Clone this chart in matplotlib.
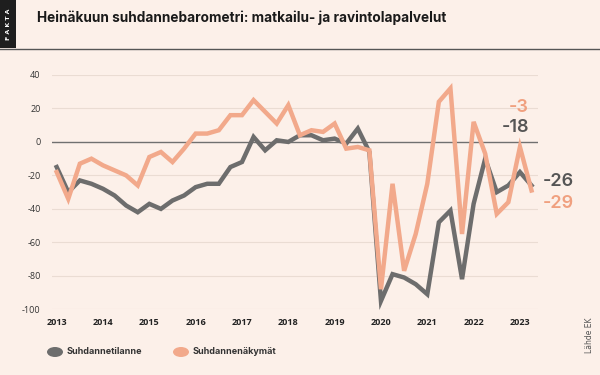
import numpy as np
import matplotlib
matplotlib.use('Agg')
import matplotlib.pyplot as plt
from matplotlib.patches import Rectangle, Circle
from matplotlib.lines import Line2D

# quarterly survey rounds, 2013 - July 2023
years = ['2013', '2014', '2015', '2016', '2017', '2018', '2019', '2020', '2021', '2022', '2023']
tilanne = [-15, -30, -23, -25, -28, -32, -38, -42, -37, -40, -35, -32, -27, -25, -25, -15,
           -12, 3, -5, 1, 0, 4, 4, 1, 2, -1, 8, -6, -95, -79, -81, -85, -91, -48, -41, -82,
           -37, -10, -30, -26, -18, -26]
nakymat = [-18, -34, -13, -10, -14, -17, -20, -26, -9, -6, -12, -4, 5, 5, 7, 16,
           16, 25, 18, 11, 22, 4, 7, 6, 11, -4, -3, -5, -88, -25, -77, -55, -25, 24, 32, -55,
           12, -7, -43, -36, -3, -29]
y_ticks = [40, 20, 0, -20, -40, -60, -80, -100]

bg = '#fcf0e9'
grey = '#6d6d6d'
orange = '#f2a98b'
orange_txt = '#f0a07f'

fig = plt.figure(figsize=(6, 3.75), dpi=100, facecolor=bg)

# header
fig.add_artist(Rectangle((0, 1 - 48 / 375), 16 / 600, 48 / 375, transform=fig.transFigure,
                         facecolor='#1e1e1e', edgecolor='none'))
fig.add_artist(Line2D([0, 1], [1 - 48.5 / 375, 1 - 48.5 / 375], transform=fig.transFigure,
                      color='#555555', lw=1))
fig.text(8.5 / 600, 1 - 24 / 375, 'F A K T A', rotation=90, color='white', fontsize=4.5,
         fontweight='bold', ha='center', va='center', family='DejaVu Sans')
fig.text(37 / 600, 1 - 18 / 375, 'Heinäkuun suhdannebarometri: matkailu- ja ravintolapalvelut',
         fontsize=9.8, fontweight='bold', family='Inter', color='#1a1a1a', ha='left', va='center')

ax = fig.add_axes([51.7 / 600, 1 - 309.3 / 375, (538 - 51.7) / 600, (309.3 - 75) / 375])
ax.set_facecolor(bg)
x = np.arange(len(tilanne))
ax.set_xlim(-0.43, 41.56)
ax.set_ylim(-100, 40)
for v in y_ticks:
    if v == 0:
        ax.axhline(v, color='#707070', lw=1, zorder=1)
    else:
        ax.axhline(v, color='#eadcd3', lw=0.8, zorder=0)
ax.plot(x, tilanne, color=grey, lw=3.2, zorder=3, solid_joinstyle='miter', clip_on=False)
ax.plot(x, nakymat, color=orange, lw=3.2, zorder=4, solid_joinstyle='miter', clip_on=False)

for s in ax.spines.values():
    s.set_visible(False)
ax.set_yticks(y_ticks)
ax.set_yticklabels([str(v) for v in y_ticks], fontsize=6.5, family='Open Sans', color='#333333')
ax.set_xticks(np.arange(0, len(tilanne), 4))
ax.set_xticklabels(years, fontsize=6.5, family='Open Sans', fontweight='bold', color='#222222')
ax.tick_params(length=0)
ax.tick_params(axis='y', pad=8)
ax.tick_params(axis='x', pad=6)

# end values
lab_style = dict(fontsize=13, fontweight='semibold', family='Inter', va='center')
fig.text(529 / 600, 1 - 107 / 375, '-3', color=orange_txt, ha='right', **lab_style)
fig.text(529 / 600, 1 - 128 / 375, '-18', color='#555555', ha='right', **lab_style)
fig.text(543 / 600, 1 - 181 / 375, '-26', color='#555555', ha='left', **lab_style)
fig.text(543 / 600, 1 - 203 / 375, '-29', color=orange_txt, ha='left', **lab_style)

# legend
for cx, col, lab in [(55, grey, 'Suhdannetilanne'), (181, orange, 'Suhdannenäkymät')]:
    fig.add_artist(Circle((cx / 600, 1 - 352 / 375), 8 / 600, transform=fig.transFigure,
                          facecolor=col, edgecolor='none'))
    fig.text((cx + 12) / 600, 1 - 352 / 375, lab, fontsize=6.5, fontweight='bold',
             family='Inter', color='#333333', ha='left', va='center')

fig.text(590 / 600, 1 - 335 / 375, 'Lähde EK', rotation=90, fontsize=5.5, color='#555555',
         family='DejaVu Sans', ha='center', va='center')

fig.savefig('out.png', dpi=100, facecolor=bg)
